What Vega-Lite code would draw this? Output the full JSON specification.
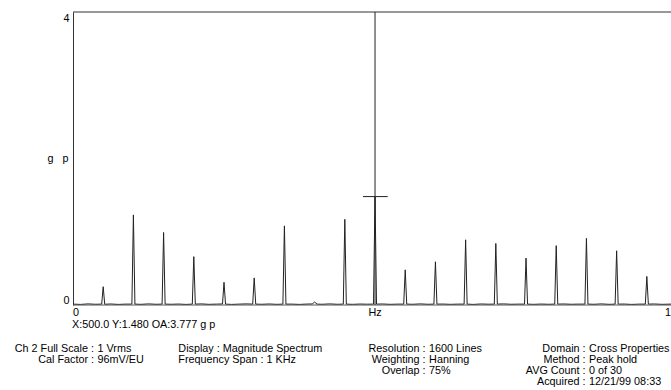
{
  "$schema": "https://vega.github.io/schema/vega-lite/v6.json",
  "width": 598,
  "height": 293,
  "autosize": {"type": "none"},
  "padding": {"left": 73, "top": 12, "right": 0, "bottom": 85},
  "background": "white",
  "config": {
    "view": {"stroke": null},
    "font": "Liberation Sans",
    "text": {"font": "Liberation Sans", "fontSize": 10.8, "color": "#000", "baseline": "middle"}
  },
  "datasets": {
    "spectrum": [
      {"f": 0, "g": 0.012}, {"f": 12.5, "g": 0.008}, {"f": 25, "g": 0.015}, {"f": 37.5, "g": 0.01},
      {"f": 47.5, "g": 0.012}, {"f": 50, "g": 0.25}, {"f": 52.5, "g": 0.01}, {"f": 62.5, "g": 0.014}, {"f": 75, "g": 0.008}, {"f": 87.5, "g": 0.012},
      {"f": 97.5, "g": 0.012}, {"f": 100, "g": 1.23}, {"f": 102.5, "g": 0.012}, {"f": 112.5, "g": 0.009}, {"f": 125, "g": 0.015}, {"f": 137.5, "g": 0.01},
      {"f": 147.5, "g": 0.012}, {"f": 150, "g": 0.99}, {"f": 152.5, "g": 0.012}, {"f": 162.5, "g": 0.01}, {"f": 175, "g": 0.013}, {"f": 187.5, "g": 0.008},
      {"f": 197.5, "g": 0.012}, {"f": 200, "g": 0.66}, {"f": 202.5, "g": 0.012}, {"f": 212.5, "g": 0.015}, {"f": 225, "g": 0.009}, {"f": 237.5, "g": 0.012},
      {"f": 247.5, "g": 0.014}, {"f": 250, "g": 0.31}, {"f": 252.5, "g": 0.012}, {"f": 262.5, "g": 0.008}, {"f": 275, "g": 0.012}, {"f": 287.5, "g": 0.015},
      {"f": 297.5, "g": 0.012}, {"f": 300, "g": 0.37}, {"f": 302.5, "g": 0.012}, {"f": 312.5, "g": 0.01}, {"f": 325, "g": 0.014}, {"f": 337.5, "g": 0.009},
      {"f": 347.5, "g": 0.012}, {"f": 350, "g": 1.08}, {"f": 352.5, "g": 0.012}, {"f": 362.5, "g": 0.012}, {"f": 375, "g": 0.008}, {"f": 387.5, "g": 0.013},
      {"f": 396, "g": 0.014}, {"f": 400, "g": 0.04}, {"f": 404, "g": 0.012}, {"f": 412.5, "g": 0.01}, {"f": 425, "g": 0.015}, {"f": 437.5, "g": 0.01},
      {"f": 447.5, "g": 0.012}, {"f": 450, "g": 1.17}, {"f": 452.5, "g": 0.012}, {"f": 462.5, "g": 0.009}, {"f": 475, "g": 0.013}, {"f": 487.5, "g": 0.011},
      {"f": 497.5, "g": 0.012}, {"f": 500, "g": 1.48}, {"f": 502.5, "g": 0.012}, {"f": 512.5, "g": 0.014}, {"f": 525, "g": 0.009}, {"f": 537.5, "g": 0.012},
      {"f": 547.5, "g": 0.012}, {"f": 550, "g": 0.48}, {"f": 552.5, "g": 0.012}, {"f": 562.5, "g": 0.01}, {"f": 575, "g": 0.015}, {"f": 587.5, "g": 0.01},
      {"f": 597.5, "g": 0.012}, {"f": 600, "g": 0.59}, {"f": 602.5, "g": 0.012}, {"f": 612.5, "g": 0.013}, {"f": 625, "g": 0.009}, {"f": 637.5, "g": 0.012},
      {"f": 647.5, "g": 0.012}, {"f": 650, "g": 0.89}, {"f": 652.5, "g": 0.012}, {"f": 662.5, "g": 0.008}, {"f": 675, "g": 0.014}, {"f": 687.5, "g": 0.011},
      {"f": 697.5, "g": 0.012}, {"f": 700, "g": 0.84}, {"f": 702.5, "g": 0.012}, {"f": 712.5, "g": 0.015}, {"f": 725, "g": 0.01}, {"f": 737.5, "g": 0.012},
      {"f": 747.5, "g": 0.012}, {"f": 750, "g": 0.64}, {"f": 752.5, "g": 0.012}, {"f": 762.5, "g": 0.009}, {"f": 775, "g": 0.013}, {"f": 787.5, "g": 0.01},
      {"f": 797.5, "g": 0.012}, {"f": 800, "g": 0.81}, {"f": 802.5, "g": 0.012}, {"f": 812.5, "g": 0.014}, {"f": 825, "g": 0.01}, {"f": 837.5, "g": 0.012},
      {"f": 847.5, "g": 0.012}, {"f": 850, "g": 0.91}, {"f": 852.5, "g": 0.012}, {"f": 862.5, "g": 0.01}, {"f": 875, "g": 0.015}, {"f": 887.5, "g": 0.009},
      {"f": 897.5, "g": 0.012}, {"f": 900, "g": 0.74}, {"f": 902.5, "g": 0.012}, {"f": 912.5, "g": 0.013}, {"f": 925, "g": 0.008}, {"f": 937.5, "g": 0.012},
      {"f": 947.5, "g": 0.012}, {"f": 950, "g": 0.39}, {"f": 952.5, "g": 0.012}, {"f": 962.5, "g": 0.014}, {"f": 975, "g": 0.009}, {"f": 990, "g": 0.012}
    ],
    "info": [
      {"block": "b1", "line": 1, "key": "Ch 2 Full Scale :", "value": "1 Vrms"},
      {"block": "b1", "line": 2, "key": "Cal Factor :", "value": "\u00a096mV/EU"},
      {"block": "b2", "line": 1, "key": "Display : Magnitude Spectrum", "value": ""},
      {"block": "b2", "line": 2, "key": "\u00a0\u00a0Frequency Span : 1 KHz", "value": ""},
      {"block": "b3", "line": 1, "key": "Resolution :", "value": "1600 Lines"},
      {"block": "b3", "line": 2, "key": "Weighting :", "value": "Hanning"},
      {"block": "b3", "line": 3, "key": "Overlap :", "value": "75%"},
      {"block": "b4", "line": 1, "key": "Domain :", "value": "Cross Properties"},
      {"block": "b4", "line": 2, "key": "Method :", "value": "Peak hold"},
      {"block": "b4", "line": 3, "key": "AVG Count :", "value": "0 of 30"},
      {"block": "b4", "line": 4, "key": "Acquired :", "value": "12/21/99 08:33"}
    ]
  },
  "layer": [
    {
      "layer": [
        {
          "data": {"name": "spectrum"},
          "mark": {"type": "line", "color": "#222", "strokeWidth": 1},
          "encoding": {
            "x": {
              "field": "f", "type": "quantitative",
              "scale": {"domain": [0, 990], "nice": false, "zero": false},
              "axis": null
            },
            "y": {
              "field": "g", "type": "quantitative",
              "scale": {"domain": [0, 4], "nice": false},
              "axis": {
                "values": [0, 4], "format": "d", "labelFlush": true, "ticks": false, "tickSize": 0, "grid": false,
                "domain": true, "domainColor": "#333",
                "labelPadding": 4, "labelFontSize": 10.8, "labelColor": "#000", "labelFont": "Liberation Sans",
                "title": "g\u00a0\u00a0\u00a0p", "titleAngle": 0, "titleAlign": "right", "titleBaseline": "middle",
                "titleX": -5, "titleY": 146,
                "titleFont": "Liberation Sans", "titleFontWeight": "normal", "titleFontSize": 10.8, "titleColor": "#000"
              }
            }
          }
        },
        {
          "data": {"values": [{}]},
          "mark": {"type": "rule", "color": "#333", "strokeWidth": 1},
          "encoding": {"y": {"datum": 4}}
        },
        {
          "data": {"values": [{}]},
          "mark": {"type": "rule", "color": "#555", "strokeWidth": 1},
          "encoding": {"y": {"datum": 0}}
        },
        {
          "data": {"values": [{}]},
          "mark": {"type": "rule", "color": "#222", "strokeWidth": 1},
          "encoding": {"x": {"datum": 500, "axis": null}}
        },
        {
          "data": {"values": [{}]},
          "mark": {"type": "rule", "color": "#222", "strokeWidth": 1},
          "encoding": {"x": {"datum": 480, "axis": null}, "x2": {"datum": 521}, "y": {"datum": 1.48}}
        },
        {
          "data": {"values": [{}]},
          "mark": {"type": "text", "align": "left"},
          "encoding": {"x": {"datum": 0, "axis": null}, "y": {"datum": -0.11}, "text": {"value": "0"}}
        },
        {
          "data": {"values": [{}]},
          "mark": {"type": "text", "align": "center"},
          "encoding": {"x": {"datum": 500, "axis": null}, "y": {"datum": -0.11}, "text": {"value": "Hz"}}
        },
        {
          "data": {"values": [{}]},
          "mark": {"type": "text", "align": "right"},
          "encoding": {"x": {"datum": 990, "axis": null}, "y": {"datum": -0.11}, "text": {"value": "1"}}
        },
        {
          "data": {"values": [{}]},
          "mark": {"type": "text", "align": "left", "dx": -1},
          "encoding": {"x": {"datum": 0, "axis": null}, "y": {"datum": -0.278}, "text": {"value": "X:500.0 Y:1.480 OA:3.777 g p"}}
        }
      ]
    },
    {
      "data": {"name": "info"},
      "encoding": {
        "y": {"field": "line", "type": "quantitative", "scale": {"domain": [-30.1, -3.1], "reverse": true, "nice": false, "zero": false}, "axis": null}
      },
      "layer": [
        {"transform": [{"filter": "datum.block == 'b1'"}], "mark": {"type": "text", "align": "right"}, "encoding": {"x": {"datum": 34.8, "scale": {"domain": [0, 990], "nice": false, "zero": false}, "axis": null}, "text": {"field": "key"}}},
        {"transform": [{"filter": "datum.block == 'b1'"}], "mark": {"type": "text", "align": "left", "dx": 3.5}, "encoding": {"x": {"datum": 34.8, "axis": null}, "text": {"field": "value"}}},
        {"transform": [{"filter": "datum.block == 'b2'"}], "mark": {"type": "text", "align": "left"}, "encoding": {"x": {"datum": 174.4, "axis": null}, "text": {"field": "key"}}},
        {"transform": [{"filter": "datum.block == 'b3'"}], "mark": {"type": "text", "align": "right"}, "encoding": {"x": {"datum": 583.7, "axis": null}, "text": {"field": "key"}}},
        {"transform": [{"filter": "datum.block == 'b3'"}], "mark": {"type": "text", "align": "left", "dx": 3.5}, "encoding": {"x": {"datum": 583.7, "axis": null}, "text": {"field": "value"}}},
        {"transform": [{"filter": "datum.block == 'b4'"}], "mark": {"type": "text", "align": "right"}, "encoding": {"x": {"datum": 848.6, "axis": null}, "text": {"field": "key"}}},
        {"transform": [{"filter": "datum.block == 'b4'"}], "mark": {"type": "text", "align": "left", "dx": 3.5}, "encoding": {"x": {"datum": 848.6, "axis": null}, "text": {"field": "value"}}}
      ]
    }
  ],
  "resolve": {"scale": {"x": "independent", "y": "independent"}}
}
